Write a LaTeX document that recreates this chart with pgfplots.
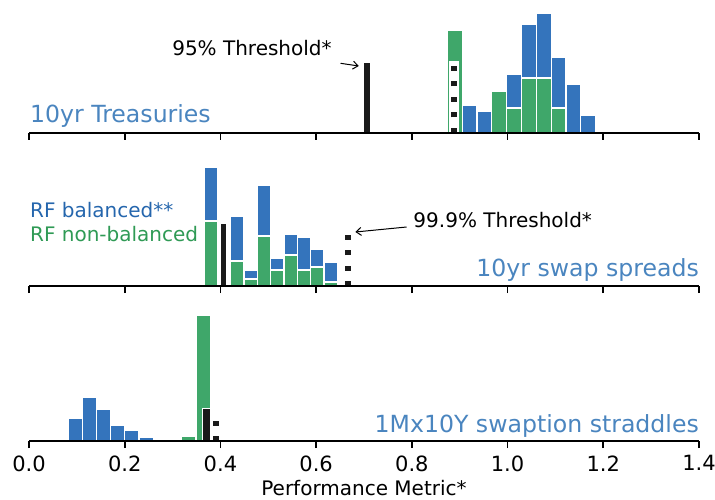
\documentclass[border=0pt]{standalone}
\usepackage{fontspec}
\setmainfont{DejaVu Sans}
\usepackage{pgfplots}
\pgfplotsset{compat=1.18}
\usetikzlibrary{arrows.meta}

\definecolor{barblue}{HTML}{3474BC}
\definecolor{bargreen}{HTML}{3FA76A}
\definecolor{labblue}{HTML}{4A85BF}
\definecolor{legblue}{HTML}{2566AD}
\definecolor{leggreen}{HTML}{2F9A55}
\definecolor{thr}{HTML}{1A1A1A}

\newcommand\labfont{\fontsize{23.6}{28}\selectfont}
\newcommand\txtfont{\fontsize{20}{24}\selectfont}
\newcommand\tickfont{\fontsize{21}{25}\selectfont}

\pgfplotsset{
  panel/.style={
    scale only axis, width=670pt, height=130pt,
    xmin=0, xmax=1.4, ymin=0, ymax=130,
    axis x line=bottom, axis y line=none,
    x axis line style={-, line width=1.6pt, black},
    axis on top, clip=false,
    xtick={0,0.2,0.4,0.6,0.8,1.0,1.2,1.4},
    tick align=outside, major tick length=7pt,
    every tick/.style={black, line width=1.6pt},
    anchor=south west,
  },
  hist/.style={ybar interval, draw=white, line width=1.2pt, fill=#1},
  thrbar/.style={ybar interval, draw=white, line width=1pt, fill=thr},
  dots/.style={thr, line width=6pt, dash pattern=on 5pt off 10.5pt},
}

\begin{document}
\begin{tikzpicture}
\path[use as bounding box] (0,0) rectangle (715pt,499pt);

% 10yr Treasuries
\begin{axis}[panel, at={(29pt,366pt)}, xticklabels={}]
  \addplot[hist=barblue] coordinates {
    (0.874,0) (0.905,28) (0.936,22) (0.967,44) (0.998,59)
    (1.029,109) (1.060,120) (1.091,76) (1.122,49) (1.153,18) (1.184,0)};
  \addplot[hist=bargreen] coordinates {
    (0.874,103) (0.905,0) (0.936,0) (0.967,42) (0.998,25)
    (1.029,55) (1.060,55) (1.091,25) (1.122,0) (1.153,0) (1.184,0)};
  \addplot[ybar interval, draw=none, fill=white] coordinates {(0.877,72) (0.8995,72)};
  \addplot[dots] coordinates {(0.889,0) (0.889,72)};
  \addplot[thrbar] coordinates {(0.699,70) (0.713,70)};
  \node[anchor=base west, inner sep=0, font=\labfont, text=labblue] at (axis cs:0.002,10) {10yr Treasuries};
  \node[anchor=base west, inner sep=0, font=\txtfont] at (axis cs:0.299,77) {95\% Threshold*};
  \draw[-{Straight Barb[length=5pt,width=8pt]}, line width=1pt] (axis cs:0.651,69.7) -- (axis cs:0.689,67);
\end{axis}

% 10yr swap spreads
\begin{axis}[panel, at={(29pt,213pt)}, xticklabels={}]
  \addplot[hist=barblue] coordinates {
    (0.3655,119) (0.3934,0) (0.4213,70) (0.4492,16) (0.4771,101)
    (0.5050,28) (0.5329,52) (0.5608,49) (0.5887,37) (0.6166,24) (0.6445,0)};
  \addplot[hist=bargreen] coordinates {
    (0.3655,65) (0.3934,0) (0.4213,25) (0.4492,7) (0.4771,50)
    (0.5050,16) (0.5329,31) (0.5608,16) (0.5887,19) (0.6166,4) (0.6445,0)};
  \addplot[thrbar] coordinates {(0.400,63) (0.413,63)};
  \addplot[dots] coordinates {(0.666,0) (0.666,53)};
  \node[anchor=base west, inner sep=0, font=\txtfont, text=legblue] at (axis cs:0.002,69) {RF balanced**};
  \node[anchor=base west, inner sep=0, font=\txtfont, text=leggreen] at (axis cs:0.002,45) {RF non-balanced};
  \node[anchor=base east, inner sep=0, font=\labfont, text=labblue] at (axis cs:1.4,9.5) {10yr swap spreads};
  \node[anchor=base west, inner sep=0, font=\txtfont] at (axis cs:0.803,58.7) {99.9\% Threshold*};
  \draw[-{Straight Barb[length=5pt,width=8pt]}, line width=1pt] (axis cs:0.789,59) -- (axis cs:0.682,54);
\end{axis}

% 1Mx10Y swaption straddles
\begin{axis}[panel, at={(29pt,58pt)},
    x tick label style={/pgf/number format/.cd, fixed, fixed zerofill, precision=1,
      assume math mode=true, /tikz/.cd, font=\tickfont},
    xticklabel shift=4pt]
  \addplot[hist=barblue] coordinates {
    (0.0815,22.7) (0.1112,44) (0.1409,31.7) (0.1706,15.3) (0.2003,11)
    (0.2300,3.3) (0.2597,0) (0.2894,0) (0.3191,0) (0.3488,0) (0.3785,0)};
  \addplot[hist=bargreen] coordinates {
    (0.0815,0) (0.1112,0) (0.1409,0) (0.1706,0) (0.2003,0)
    (0.2300,0) (0.2597,0) (0.2894,0) (0.3191,5) (0.3488,126) (0.3785,0)};
  \addplot[thrbar] coordinates {(0.363,32.7) (0.379,32.7)};
  \addplot[dots] coordinates {(0.390,0) (0.390,23)};
  \node[anchor=base east, inner sep=0, font=\labfont, text=labblue] at (axis cs:1.4,8.5) {1Mx10Y swaption straddles};
  \node[anchor=base, inner sep=0, font=\txtfont] at (axis cs:0.7,-54.5) {Performance Metric*};
\end{axis}
\end{tikzpicture}
\end{document}
